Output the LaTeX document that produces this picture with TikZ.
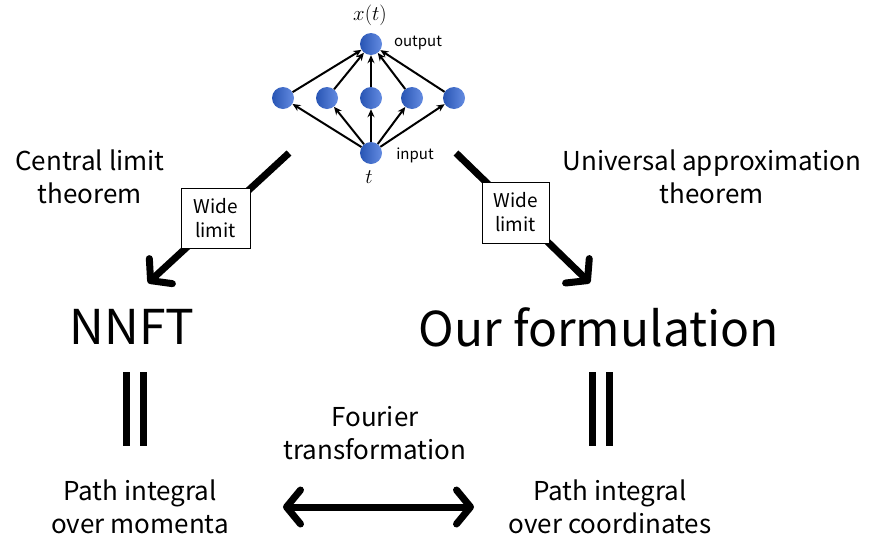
\documentclass[tikz,border=0pt]{standalone}
\usepackage{fontspec}
\setmainfont{Noto Sans CJK JP}
\usetikzlibrary{arrows.meta}
\begin{document}
\begin{tikzpicture}[x=1pt,y=-1pt,
  neuron/.style={circle,minimum size=22pt,inner sep=0pt,left color={rgb,255:red,40;green,85;blue,180},right color={rgb,255:red,100;green,140;blue,225}},
  nnarrow/.style={-{Stealth[length=8pt,width=7pt]},line width=2pt},
  bigarrow/.style={line width=7pt,-{Straight Barb[length=14pt,width=34pt,round]}},
  dblarrow/.style={line width=7pt,{Straight Barb[length=14pt,width=34pt,round]}-{Straight Barb[length=14pt,width=34pt,round]}},
  limitbox/.style={draw,fill=white,line width=0.8pt,align=center,inner sep=0pt,font=\fontsize{19}{24}\selectfont},
  midtext/.style={align=center,font=\fontsize{26}{33}\selectfont},
  bigtext/.style={font=\fontsize{48}{56}\selectfont},
  smalltext/.style={font=\fontsize{15}{17}\selectfont},
  eqbar/.style={line width=7pt}
]
\useasboundingbox (0,0) rectangle (878,536);
% neural net
\node[neuron] (out) at (371,44) {};
\node[neuron] (in) at (371,153) {};
\node[neuron] (h1) at (283,98) {};
\node[neuron] (h2) at (327,98) {};
\node[neuron] (h3) at (371,98) {};
\node[neuron] (h4) at (412,98) {};
\node[neuron] (h5) at (454,98) {};
\foreach \h in {h1,h2,h3,h4,h5}{
  \draw[nnarrow] (in) -- (\h);
  \draw[nnarrow] (\h) -- (out);
}
\node[font=\fontsize{20}{22}\selectfont] (xt) at (370,15) {$x(t)$};
\node[font=\fontsize{20}{22}\selectfont] (tt) at (369,177) {$t$};
\node[smalltext] (outl) at (418,43) {output};
\node[smalltext] (inl) at (415,155) {input};
% theorems
\node[midtext] (clt) at (90,177) {Central limit\\theorem};
\node[midtext] (uat) at (712,177) {Universal approximation\\theorem};
% wide limit arrows
\coordinate (ls) at (289,153);
\coordinate (le) at (148,283);
\coordinate (rs) at (456,153);
\coordinate (re) at (590,283);
\draw[bigarrow] (ls) -- (le);
\draw[bigarrow] (rs) -- (re);
\node[limitbox,minimum width=69pt,minimum height=60pt] (wl1) at (215.5,218) {Wide\\limit};
\node[limitbox,minimum width=67pt,minimum height=61pt] (wl2) at (515.5,212.5) {Wide\\limit};
% formulations
\node[bigtext] (nnft) at (132,327) {NNFT};
\node[bigtext] (our) at (599,327) {Our formulation};
% equal bars
\coordinate (la1) at (126,372); \coordinate (la2) at (126,446);
\coordinate (lb1) at (143,372); \coordinate (lb2) at (143,446);
\coordinate (ra1) at (592.5,372); \coordinate (ra2) at (592.5,446);
\coordinate (rb1) at (609,372); \coordinate (rb2) at (609,446);
\draw[eqbar] (la1) -- (la2);
\draw[eqbar] (lb1) -- (lb2);
\draw[eqbar] (ra1) -- (ra2);
\draw[eqbar] (rb1) -- (rb2);
% bottom
\node[midtext] (ft) at (375,433) {Fourier\\transformation};
\node[midtext] (pm) at (140,507) {Path integral\\over momenta};
\node[midtext] (pc) at (610,507) {Path integral\\over coordinates};
\coordinate (dl) at (283,507);
\coordinate (dr) at (474,507);
\draw[dblarrow] (dl) -- (dr);
\end{tikzpicture}
\end{document}
